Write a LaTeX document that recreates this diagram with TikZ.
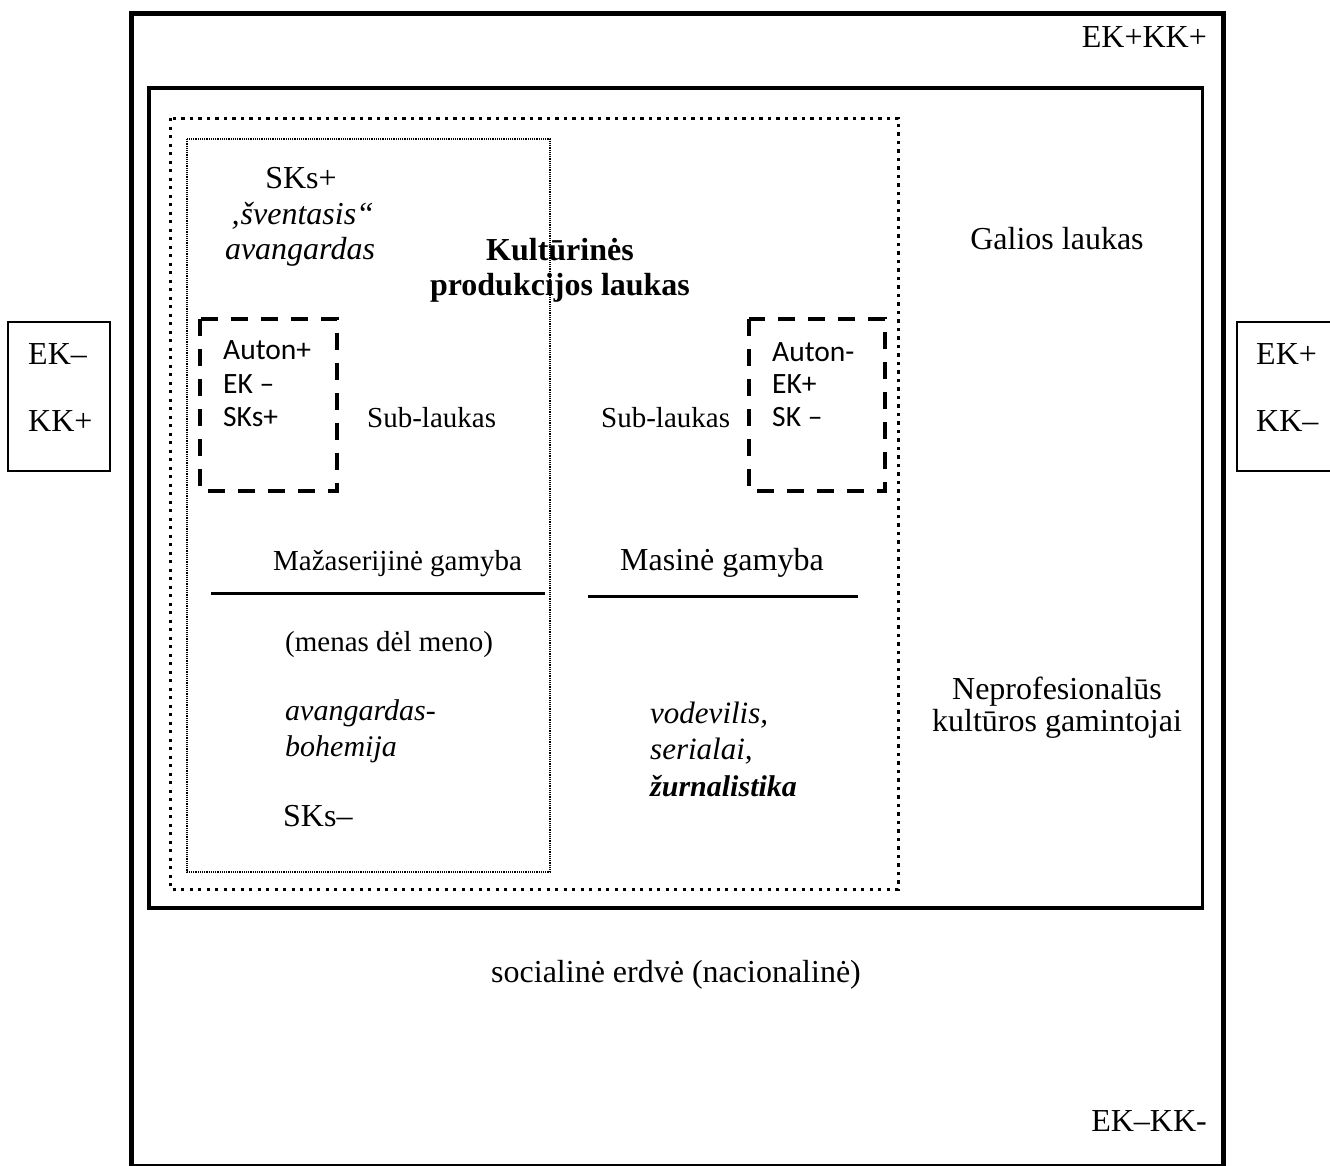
\documentclass[tikz,border=0pt]{standalone}
\usepackage{fontspec}
\setmainfont{Liberation Serif}
\newfontfamily\calfont{Carlito}
\begin{document}
\begin{tikzpicture}[x=1pt,y=-1pt,
  big/.style={font=\fontsize{32}{36}\selectfont, inner sep=0pt},
  small/.style={font=\fontsize{29}{33}\selectfont, inner sep=0pt},
  sans/.style={font=\calfont\fontsize{29.5}{33}\selectfont, inner sep=0pt, anchor=base west},
  thickframe/.style={line width=5pt},
  powerframe/.style={line width=3.5pt},
  sideframe/.style={line width=1.3pt},
  culturedots/.style={line width=3pt, dash pattern=on 3.2pt off 5.3pt},
  finedots/.style={line width=2.5pt, dash pattern=on 1.2pt off 1pt},
  subdash/.style={line width=4pt, dash pattern=on 17pt off 13pt},
  rule/.style={line width=3pt}]
\useasboundingbox (0,0) rectangle (1330,1165);
% frames
\draw[thickframe] (131.5,13) rectangle (1223,1166);
\draw[powerframe] (149,88) rectangle (1202.5,908);
\draw[culturedots] (170,118) rectangle (898,889);
\draw[finedots] (187,139) rectangle (550,872);
\draw[subdash] (200,319) rectangle (337,491);
\draw[subdash] (749,319) rectangle (885,491);
\draw[sideframe] (8,322) rectangle (110,471);
\draw[sideframe] (1340,322) -- (1237,322) -- (1237,471) -- (1340,471);
% rules
\coordinate (l1) at (211,593); \coordinate (l2) at (545,593);
\coordinate (r1) at (588,596); \coordinate (r2) at (858,596);
\draw[rule] (l1) -- (l2);
\draw[rule] (r1) -- (r2);
% texts
\node[big, anchor=base east] (ekkkp) at (1207,47) {EK+KK+};
\node[big, anchor=base] (sksp) at (301,188) {SKs+};
\node[big, anchor=base] (svent) at (302,224) {\itshape ‚šventasis“};
\node[big, anchor=base] (avan) at (300,259) {\itshape avangardas};
\node[big, anchor=base, font=\bfseries\fontsize{32}{36}\selectfont] (kult) at (560,260) {Kultūrinės};
\node[big, anchor=base, font=\bfseries\fontsize{32}{36}\selectfont] (prod) at (560,295) {produkcijos laukas};
\node[big, anchor=base] (gal) at (1057,249) {Galios laukas};
\node[big, anchor=base west] (lek) at (28,364) {EK–};
\node[big, anchor=base west] (lkk) at (28,431) {KK+};
\node[big, anchor=base west] (rek) at (1256,364) {EK+};
\node[big, anchor=base west] (rkk) at (1256,431) {KK–};
\node[sans] (a1) at (223,359) {Auton+};
\node[sans] (a2) at (223,393) {EK –};
\node[sans] (a3) at (223,426) {SKs+};
\node[sans] (b1) at (772,361) {Auton-};
\node[sans] (b2) at (772,393) {EK+};
\node[sans] (b3) at (772,426) {SK –};
\node[small, anchor=base west] (subl) at (367,427) {Sub-laukas};
\node[small, anchor=base west] (subr) at (601,427) {Sub-laukas};
\node[small, anchor=base west] (maz) at (273,570) {Mažaserijinė gamyba};
\node[big, anchor=base west] (mas) at (620,570) {Masinė gamyba};
\node[small, anchor=base west] (men) at (285,651) {(menas dėl meno)};
\node[small, anchor=base west, font=\itshape\fontsize{30}{34}\selectfont] (avb1) at (285,720) {avangardas-};
\node[small, anchor=base west, font=\itshape\fontsize{30}{34}\selectfont] (avb2) at (285,756) {bohemija};
\node[big, anchor=base west] (sksm) at (283,826) {SKs–};
\node[small, anchor=base west, font=\itshape\fontsize{31}{34}\selectfont] (vod) at (650,723) {vodevilis,};
\node[small, anchor=base west, font=\itshape\fontsize{31}{34}\selectfont] (ser) at (650,759) {serialai,};
\node[small, anchor=base west, font=\bfseries\itshape\fontsize{30}{34}\selectfont] (zur) at (650,796) {žurnalistika};
\node[big, anchor=base] (nep) at (1057,699) {Neprofesionalūs};
\node[big, anchor=base] (kgam) at (1057,731) {kultūros gamintojai};
\node[big, anchor=base] (soc) at (676,982) {socialinė erdvė (nacionalinė)};
\node[big, anchor=base east] (ekkkm) at (1207,1131) {EK–KK-};
\end{tikzpicture}
\end{document}
